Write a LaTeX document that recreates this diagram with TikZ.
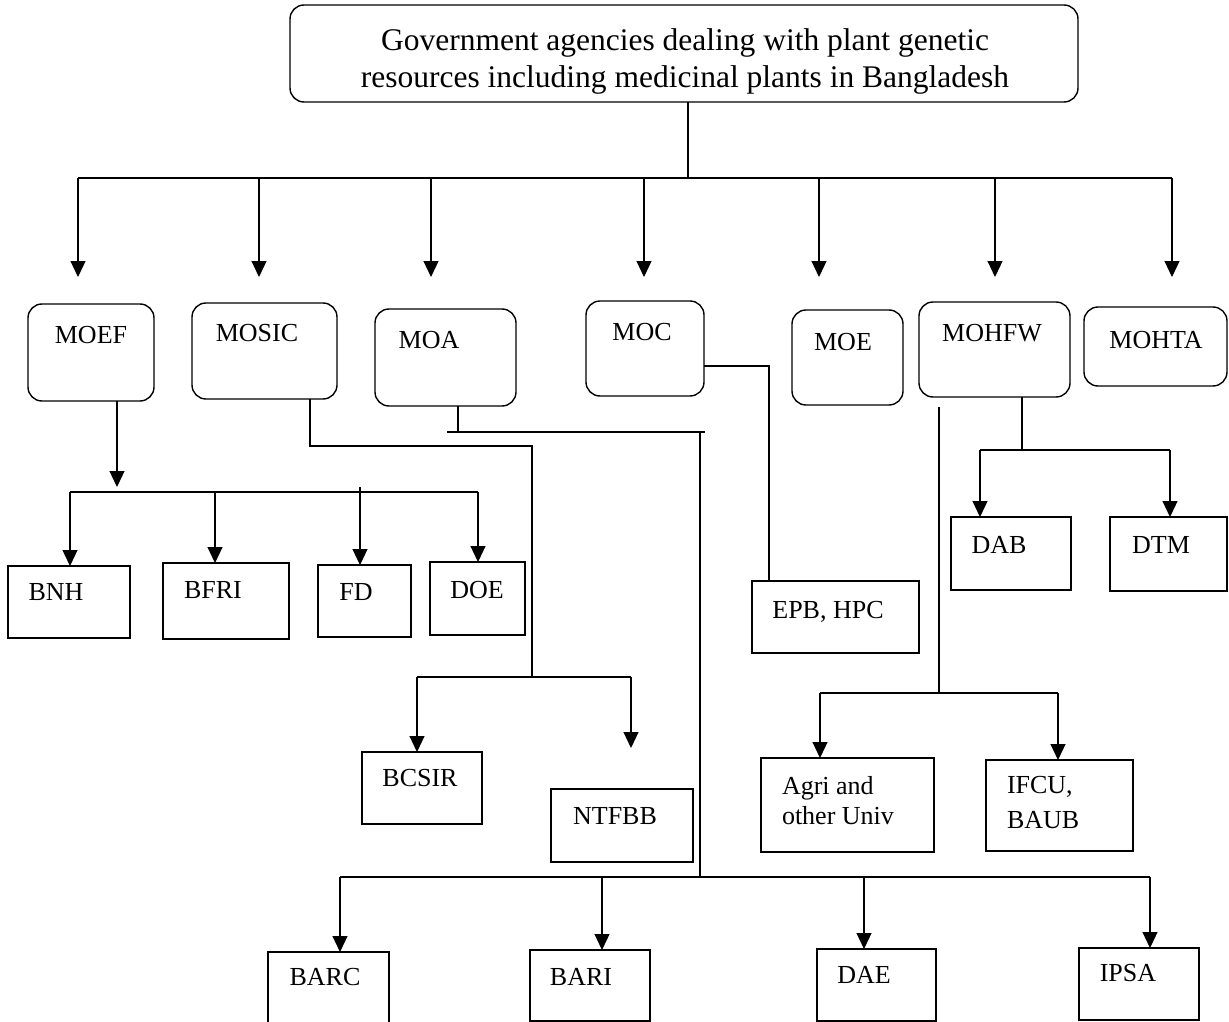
\documentclass[tikz,border=0pt]{standalone}
\usepackage{fontspec}
\setmainfont{Liberation Serif}
\usetikzlibrary{arrows.meta}
% box from (x1,y1) to (x2,y2): #1 style, #2 name
\newcommand\mkbox[6]{\node[#1, minimum width={#5pt-#3pt}, minimum height={#6pt-#4pt}] (#2) at (#3,#4) {};}
\begin{document}
\begin{tikzpicture}[x=1pt,y=-1pt,
  line width=1.2pt,
  every node/.style={inner sep=0pt, outer sep=0pt},
  rbox/.style={draw, line width=1.4pt, rounded corners=14pt, anchor=north west},
  sbox/.style={draw, line width=1.4pt, anchor=north west},
  lbl/.style={font=\fontsize{26}{30}\selectfont, text height=17pt, text depth=0pt},
  arr/.style={-{Triangle[width=15pt,length=16pt]}},
]
\useasboundingbox (0,0) rectangle (1229,1022);

% ---- heading box
\mkbox{rbox}{title}{290}{5}{1078}{102}
\node[font=\fontsize{31.5}{37}\selectfont, align=center, anchor=north] (title-t) at (685,29)
  {Government agencies dealing with plant genetic\\resources including medicinal plants in Bangladesh};

% ---- ministries
\mkbox{rbox}{moef}{28}{304}{154}{401}
\mkbox{rbox}{mosic}{192}{303}{337}{399}
\mkbox{rbox}{moa}{375}{309}{516}{406}
\mkbox{rbox}{moc}{586}{301}{704}{396}
\mkbox{rbox}{moe}{792}{310}{903}{405}
\mkbox{rbox}{mohfw}{919}{302}{1070}{397}
\mkbox{rbox}{mohta}{1084}{307}{1227}{386}
\node[lbl] (moef-t) at (91,335) {MOEF};
\node[lbl] (mosic-t) at (257,333) {MOSIC};
\node[lbl] (moa-t) at (429,340) {MOA};
\node[lbl] (moc-t) at (642,332) {MOC};
\node[lbl] (moe-t) at (843,342) {MOE};
\node[lbl] (mohfw-t) at (992,333) {MOHFW};
\node[lbl] (mohta-t) at (1156,340) {MOHTA};

% ---- departments and institutes
\mkbox{sbox}{bnh}{8}{566}{130}{638}
\mkbox{sbox}{bfri}{163}{563}{289}{639}
\mkbox{sbox}{fd}{318}{565}{411}{637}
\mkbox{sbox}{doe}{430}{562}{525}{635}
\mkbox{sbox}{bcsir}{362}{752}{482}{824}
\mkbox{sbox}{ntfbb}{551}{789}{693}{862}
\mkbox{sbox}{epb}{752}{581}{919}{653}
\mkbox{sbox}{dab}{951}{517}{1071}{590}
\mkbox{sbox}{dtm}{1110}{517}{1227}{591}
\mkbox{sbox}{agri}{761}{758}{934}{852}
\mkbox{sbox}{ifcu}{986}{760}{1133}{851}
\mkbox{sbox}{barc}{268}{952}{389}{1032}
\mkbox{sbox}{bari}{530}{950}{650}{1021}
\mkbox{sbox}{dae}{817}{949}{936}{1021}
\mkbox{sbox}{ipsa}{1079}{948}{1199}{1020}
\node[lbl] (bnh-t) at (56,592) {BNH};
\node[lbl] (bfri-t) at (213,590) {BFRI};
\node[lbl] (fd-t) at (356,592) {FD};
\node[lbl] (doe-t) at (477,590) {DOE};
\node[lbl] (bcsir-t) at (420,778) {BCSIR};
\node[lbl] (ntfbb-t) at (615,816) {NTFBB};
\node[lbl] (epb-t) at (828,610) {EPB, HPC};
\node[lbl] (dab-t) at (999,545) {DAB};
\node[lbl] (dtm-t) at (1161,545) {DTM};
\node[font=\fontsize{26}{30}\selectfont, align=left, anchor=north west] (agri-t) at (782,776) {Agri and\\other Univ};
\node[font=\fontsize{26}{35}\selectfont, align=left, anchor=north west] (ifcu-t) at (1007,776) {IFCU,\\BAUB};
\node[lbl] (barc-t) at (325,977) {BARC};
\node[lbl] (bari-t) at (581,977) {BARI};
\node[lbl] (dae-t) at (864,975) {DAE};
\node[lbl] (ipsa-t) at (1128,973) {IPSA};

% ---- heading to ministries
\coordinate (tj) at (688,178);
\draw (title.south -| tj) -- (tj);
\foreach \x [count=\i] in {78,259,431,644,819,995,1172}{
  \coordinate (b\i) at (\x,178);
  \coordinate (t\i) at (\x,277);
}
\draw (b1) -- (b7);
\foreach \i in {1,...,7} \draw[arr] (b\i) -- (t\i);

% ---- MOEF branch
\coordinate (moefd) at (117,487);
\draw[arr] (moef.south -| moefd) -- (moefd);
\coordinate (f1) at (70,492);
\coordinate (f2) at (215,492);
\coordinate (f3) at (360,487);
\coordinate (f4) at (478,492);
\draw (f1) -- (f4);
\draw[arr] (f1) -- (bnh.north -| f1);
\draw[arr] (f2) -- (bfri.north -| f2);
\draw[arr] (f3) -- (fd.north -| f3);
\draw[arr] (f4) -- (doe.north -| f4);

% ---- MOSIC branch
\coordinate (msx) at (310,446);
\coordinate (msy) at (532,446);
\coordinate (msb) at (532,677);
\draw (mosic.south -| msx) -- (msx) -- (msy) -- (msb);
\coordinate (bcl) at (417,677);
\coordinate (bcr) at (631,677);
\coordinate (bcrt) at (631,748);
\draw (bcl) -- (bcr);
\draw[arr] (bcl) -- (bcsir.north -| bcl);
\draw[arr] (bcr) -- (bcrt);

% ---- MOA branch
\coordinate (mad) at (458,432);
\coordinate (mal) at (447,432);
\coordinate (mar) at (705,432);
\coordinate (mav) at (700,432);
\coordinate (mab) at (700,877);
\draw (moa.south -| mad) -- (mad);
\draw (mal) -- (mar);
\draw (mav) -- (mab);
\coordinate (g1) at (340,877);
\coordinate (g2) at (602,877);
\coordinate (g3) at (864,877);
\coordinate (g4) at (1150,877);
\draw (g1) -- (g4);
\draw[arr] (g1) -- (barc.north -| g1);
\draw[arr] (g2) -- (bari.north -| g2);
\draw[arr] (g3) -- (dae.north -| g3);
\draw[arr] (g4) -- (ipsa.north -| g4);

% ---- MOC branch
\coordinate (mcj) at (769,366);
\draw (moc.east |- mcj) -- (mcj) -- (epb.north -| mcj);

% ---- MOHFW branches
\coordinate (hj) at (1022,450);
\coordinate (h1) at (980,450);
\coordinate (h2) at (1170,450);
\draw (mohfw.south -| hj) -- (hj);
\draw (h1) -- (h2);
\draw[arr] (h1) -- (dab.north -| h1);
\draw[arr] (h2) -- (dtm.north -| h2);
\coordinate (hv) at (939,407);
\coordinate (hvb) at (939,693);
\draw (hv) -- (hvb);
\coordinate (a1) at (820,693);
\coordinate (a2) at (1058,693);
\draw (a1) -- (a2);
\draw[arr] (a1) -- (agri.north -| a1);
\draw[arr] (a2) -- (ifcu.north -| a2);
\end{tikzpicture}
\end{document}
